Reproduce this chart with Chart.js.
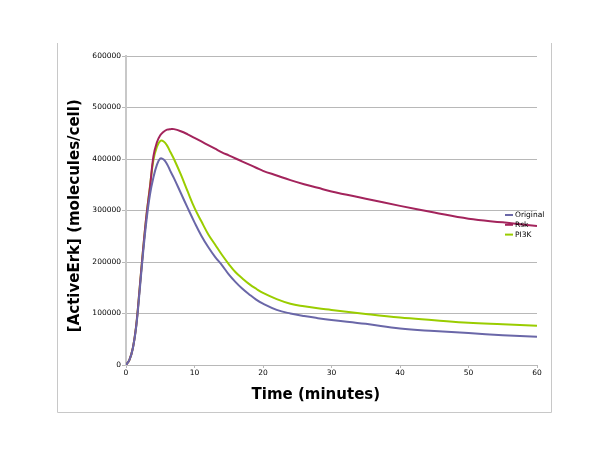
<!DOCTYPE html>
<html>
<head>
<meta charset="utf-8">
<script src="https://cdn.jsdelivr.net/npm/chart.js@4/dist/chart.umd.min.js"></script>
<style>
  html, body { margin: 0; padding: 0; background: #fff; }
  #wrap { width: 600px; height: 449px; }
</style>
</head>
<body>
<div id="wrap"><canvas id="erkChart" width="600" height="449"></canvas></div>
<script>
// time in minutes, ActiveErk in molecules/cell
const times = [0, 0.5, 1, 1.5, 2, 2.5, 3, 3.5, 4, 4.5, 5, 5.5, 6, 6.5, 7, 8, 9, 10, 11, 12, 13, 14, 15, 16, 17, 18, 19, 20, 22, 24, 26, 28, 30, 35, 40, 45, 50, 55, 60];
const original = [0, 10000, 32000, 75000, 145000, 218000, 282000, 331000, 364000, 388000, 401000, 399000, 390000, 376000, 363000, 334000, 305000, 277000, 251000, 229000, 210000, 194000, 176000, 161000, 148000, 137000, 127000, 119000, 107000, 100000, 95000, 91000, 87500, 80000, 71000, 66000, 62000, 58000, 55000];
const rsk = [0, 10000, 33000, 78000, 150000, 225000, 292000, 345000, 405000, 432000, 446000, 453000, 457000, 458000, 458000, 454000, 448000, 441000, 434000, 427000, 420000, 413000, 407000, 401000, 395000, 389000, 383000, 377000, 368000, 359000, 351000, 344000, 337000, 323000, 309000, 296000, 284000, 277000, 270000];
const pi3k = [0, 10000, 33000, 78000, 150000, 225000, 292000, 347000, 398000, 423000, 435000, 434000, 426000, 413000, 400000, 370000, 337000, 305000, 279000, 254000, 234000, 214000, 196000, 180000, 168000, 157000, 148000, 140000, 128000, 119000, 114000, 110000, 107000, 99000, 92000, 87000, 82000, 79000, 76000];
const seriesNames = ["Original", "Rsk", "PI3K"];
const yTicks = [0, 100000, 200000, 300000, 400000, 500000, 600000];
const xTicks = [0, 10, 20, 30, 40, 50, 60];

function toPoints(values) {
  return times.map((t, i) => ({ x: t, y: values[i] }));
}

// light frame around the whole figure
const framePlugin = {
  id: "frame",
  beforeDraw(chart) {
    const ctx = chart.ctx;
    ctx.save();
    ctx.strokeStyle = "#c8c8c8";
    ctx.lineWidth = 1;
    ctx.beginPath();
    ctx.moveTo(57.5, 43);
    ctx.lineTo(57.5, 412.5);
    ctx.lineTo(551.5, 412.5);
    ctx.lineTo(551.5, 43);
    ctx.stroke();
    ctx.restore();
  },
};

// small legend sitting inside the right edge of the plot
const insideLegend = {
  id: "insideLegend",
  afterDraw(chart) {
    const ctx = chart.ctx;
    const area = chart.chartArea;
    ctx.save();
    ctx.font = "7.5px 'DejaVu Sans'";
    ctx.textBaseline = "middle";
    ctx.fillStyle = "#000";
    chart.data.datasets.forEach((ds, i) => {
      const y = area.top + 159 + i * 9.8;
      const x = area.right - 32;
      ctx.strokeStyle = ds.borderColor;
      ctx.lineWidth = 2;
      ctx.beginPath();
      ctx.moveTo(x, y);
      ctx.lineTo(x + 8, y);
      ctx.stroke();
      ctx.fillText(ds.label, x + 10, y);
    });
    ctx.restore();
  },
};

const data = {
  datasets: [
    {
      label: seriesNames[0],
      data: toPoints(original),
      borderColor: "#6a67a8",
      backgroundColor: "#6a67a8",
    },
    {
      label: seriesNames[1],
      data: toPoints(rsk),
      borderColor: "#a3245c",
      backgroundColor: "#a3245c",
    },
    {
      label: seriesNames[2],
      data: toPoints(pi3k),
      borderColor: "#9acd00",
      backgroundColor: "#9acd00",
    },
  ],
};

const config = {
  type: "line",
  data: data,
  options: {
    responsive: false,
    animation: false,
    devicePixelRatio: 1,
    layout: {
      padding: { left: 60, right: 63, top: 56, bottom: 45 },
    },
    elements: {
      point: { radius: 0 },
      line: { borderWidth: 2, tension: 0.4 },
    },
    plugins: {
      legend: { display: false },
      tooltip: { enabled: false },
    },
    scales: {
      x: {
        type: "linear",
        min: 0,
        max: 60,
        afterBuildTicks: (scale) => {
          scale.ticks = xTicks.map((v) => ({ value: v }));
        },
        afterFit: (scale) => {
          scale.height = 39;
        },
        grid: {
          drawOnChartArea: false,
          color: "#b8b8b8",
          tickLength: 3,
        },
        border: { color: "#b8b8b8", width: 1 },
        ticks: {
          color: "#000",
          padding: 1,
          maxRotation: 0,
          font: { family: "DejaVu Sans", size: 7.5 },
        },
        title: {
          display: true,
          text: "Time (minutes)\u00a0\u00a0\u00a0\u00a0\u00a0\u00a0",
          color: "#000",
          padding: { top: 0, bottom: 0 },
          font: { family: "DejaVu Sans", size: 15, weight: "bold" },
        },
      },
      y: {
        min: 0,
        max: 600000,
        afterBuildTicks: (scale) => {
          scale.ticks = yTicks.map((v) => ({ value: v }));
        },
        afterFit: (scale) => {
          scale.width = 66;
        },
        grid: {
          color: "#b8b8b8",
          tickLength: 4,
        },
        border: { color: "#c8c8c8", width: 2 },
        ticks: {
          color: "#000",
          padding: 1,
          font: { family: "DejaVu Sans", size: 7.5 },
          callback: (value) => String(value),
        },
        title: {
          display: true,
          text: "[ActiveErk] (molecules/cell)\u00a0\u00a0",
          color: "#000",
          padding: { top: 6, bottom: 0 },
          font: { family: "DejaVu Sans", size: 15, weight: "bold" },
        },
      },
    },
  },
  plugins: [framePlugin, insideLegend],
};

const erkChart = new Chart(document.getElementById("erkChart"), config);
</script>
</body>
</html>
